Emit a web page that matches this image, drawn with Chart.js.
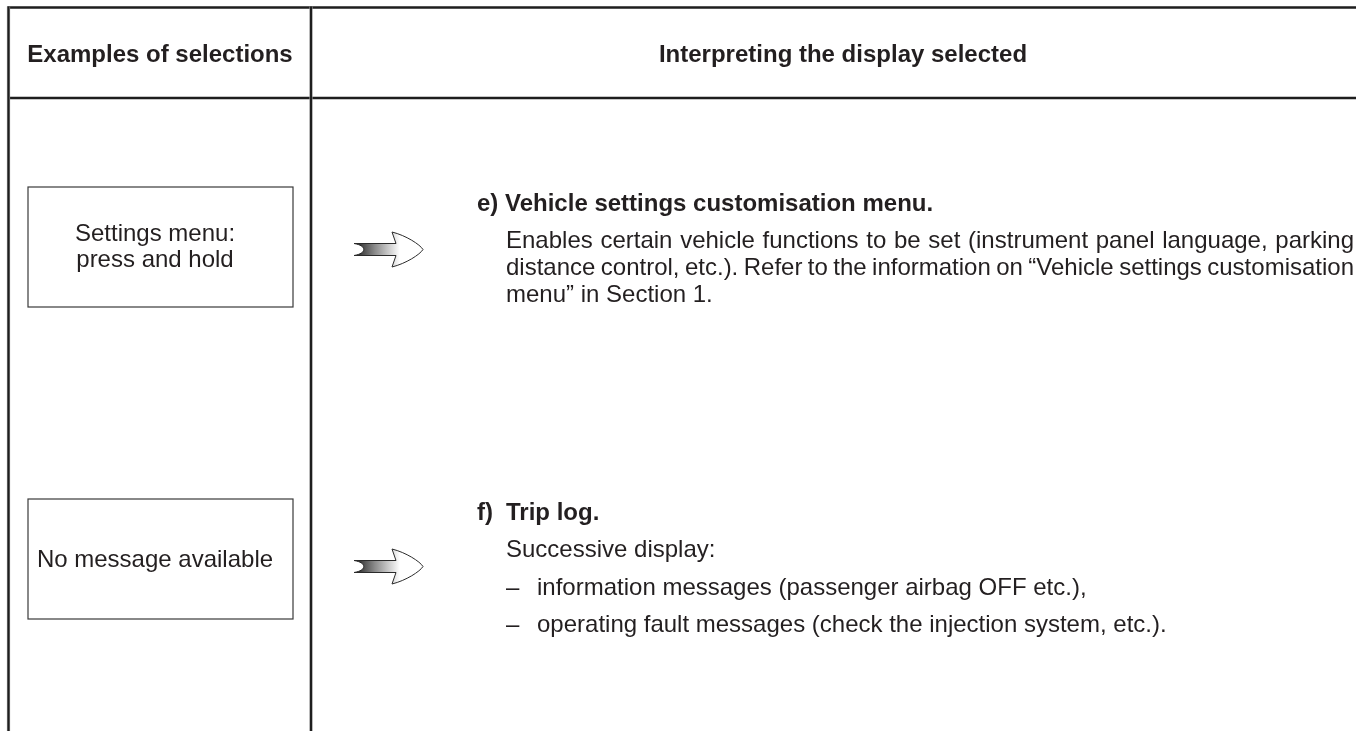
<!DOCTYPE html>
<html><head><meta charset="utf-8">
<script src="https://cdn.jsdelivr.net/npm/chart.js@4"></script>
<style>html,body{margin:0;padding:0;background:#fff;overflow:hidden}#wrap{position:relative;width:1356px;height:731px}</style>
</head><body><div id="wrap"><canvas id="c" width="1356" height="731"></canvas></div>
<script>
// ---- content ----
const headers = ["Examples of selections", "Interpreting the display selected"];
const selections = [["Settings menu:", "press and hold"], ["No message available"]];
const itemLabels = ["e)", "f)"];
const itemTitles = ["Vehicle settings customisation menu.", "Trip log."];
const itemBodyE = [
  "Enables certain vehicle functions to be set (instrument panel language, parking",
  "distance control, etc.). Refer to the information on \u201cVehicle settings customisation",
  "menu\u201d in Section 1."
];
const itemIntroF = ["Successive display:"];
const itemBulletsF = [
  "information messages (passenger airbag OFF etc.),",
  "operating fault messages (check the injection system, etc.)."
];

// ---- layout (page units mapped through hidden linear scales) ----
const L = {
  W: 1356, H: 731,
  leftX: 8.5, divX: 311, topY: 7.5, headY: 98,
  headBase: 61.5, head1X: 160, head2X: 843,
  boxX0: 28, boxX1: 293,
  boxes: [[187, 307], [499, 619]],
  selX: 155, selBase: [[241, 267], [566.5]],
  arrowX: 354, arrowRows: [249.5, 566.5],
  labelX: 477, textX: 506, bulletTextX: 537, rightEdge: 1354,
  eTitleBase: 210.5, eBodyBase: [248.3, 275, 301.7],
  fTitleBase: 520, fIntroBase: 557, fBulletBase: [595, 632]
};
const FONT = '"Liberation Sans", Arial, Helvetica, sans-serif';
const SIZE = 24, BODY = 24;
const INK = '#231f20';

const tablePlugin = {
  id: 'tablePlugin',
  afterDraw(chart) {
    const ctx = chart.ctx;
    const X = v => chart.scales.x.getPixelForValue(v);
    const Y = v => chart.scales.y.getPixelForValue(v);
    ctx.save();
    function rule(x0, y0, x1, y1) {
      ctx.lineCap = 'butt';
      ctx.strokeStyle = '#8c8c8c'; ctx.lineWidth = 3.2;
      ctx.beginPath(); ctx.moveTo(X(x0), Y(y0)); ctx.lineTo(X(x1), Y(y1)); ctx.stroke();
      ctx.strokeStyle = '#1e1e1e'; ctx.lineWidth = 2;
      ctx.beginPath(); ctx.moveTo(X(x0), Y(y0)); ctx.lineTo(X(x1), Y(y1)); ctx.stroke();
    }
    rule(L.leftX - 1, L.topY, L.W, L.topY);
    rule(L.leftX - 1, L.headY, L.W, L.headY);
    rule(L.leftX, L.topY - 1, L.leftX, L.H);
    rule(L.divX, L.topY - 1, L.divX, L.H);

    ctx.strokeStyle = '#3a3a3a'; ctx.lineWidth = 1.2;
    L.boxes.forEach(b => {
      ctx.strokeRect(X(L.boxX0), Y(b[0]), X(L.boxX1) - X(L.boxX0), Y(b[1]) - Y(b[0]));
    });

    function setFont(bold, size) {
      ctx.font = (bold ? 'bold ' : '') + size + 'px ' + FONT;
      ctx.fillStyle = INK;
      ctx.textBaseline = 'alphabetic';
    }
    function txt(s, x, y, bold, align, size) {
      setFont(bold, size || SIZE);
      ctx.textAlign = align || 'left';
      ctx.fillText(s, X(x), Y(y));
    }
    function justified(s, x0, x1, y, size) {
      setFont(false, size);
      ctx.textAlign = 'left';
      const words = s.split(' ');
      const widths = words.map(w => ctx.measureText(w).width);
      const total = widths.reduce((a, b) => a + b, 0);
      const gap = (X(x1) - X(x0) - total) / (words.length - 1);
      let px = X(x0);
      words.forEach((w, i) => { ctx.fillText(w, px, Y(y)); px += widths[i] + gap; });
    }
    txt(headers[0], L.head1X, L.headBase, true, 'center');
    txt(headers[1], L.head2X, L.headBase, true, 'center');
    selections.forEach((lines, i) => {
      lines.forEach((s, j) => txt(s, L.selX, L.selBase[i][j], false, 'center'));
    });

    L.arrowRows.forEach(cy => {
      const ax = L.arrowX;
      const P = (dx, dy) => [X(ax + dx), Y(cy + dy)];
      const g = ctx.createLinearGradient(X(ax), 0, X(ax + 46), 0);
      g.addColorStop(0, '#1a1a1a'); g.addColorStop(0.45, '#8a8a8a'); g.addColorStop(1, '#ffffff');
      ctx.beginPath();
      let p = P(0, -6); ctx.moveTo(p[0], p[1]);
      p = P(42, -6); ctx.lineTo(p[0], p[1]);
      p = P(38, -17.5); ctx.lineTo(p[0], p[1]);
      let c1 = P(52, -14), c2 = P(66, -5), e = P(69, 0);
      ctx.bezierCurveTo(c1[0], c1[1], c2[0], c2[1], e[0], e[1]);
      c1 = P(66, 5); c2 = P(52, 14); e = P(38, 17.5);
      ctx.bezierCurveTo(c1[0], c1[1], c2[0], c2[1], e[0], e[1]);
      p = P(42, 6); ctx.lineTo(p[0], p[1]);
      p = P(0, 6); ctx.lineTo(p[0], p[1]);
      c1 = P(13, 4); c2 = P(13, -4); e = P(0, -6);
      ctx.bezierCurveTo(c1[0], c1[1], c2[0], c2[1], e[0], e[1]);
      ctx.closePath();
      ctx.fillStyle = g; ctx.fill();
      ctx.strokeStyle = '#2a2a2a'; ctx.lineWidth = 1; ctx.stroke();
    });

    // e) block
    txt(itemLabels[0] + ' ' + itemTitles[0], L.labelX, L.eTitleBase, true, 'left', BODY);
    itemBodyE.forEach((s, i) => {
      if (i < itemBodyE.length - 1) justified(s, L.textX, L.rightEdge, L.eBodyBase[i], BODY);
      else txt(s, L.textX, L.eBodyBase[i], false, 'left', BODY);
    });
    // f) block
    txt(itemLabels[1], L.labelX, L.fTitleBase, true, 'left', BODY);
    txt(itemTitles[1], L.textX, L.fTitleBase, true, 'left', BODY);
    txt(itemIntroF[0], L.textX, L.fIntroBase, false, 'left', BODY);
    itemBulletsF.forEach((s, i) => {
      txt('\u2013', L.textX, L.fBulletBase[i], false, 'left', BODY);
      txt(s, L.bulletTextX, L.fBulletBase[i], false, 'left', BODY);
    });
    ctx.restore();
  }
};

new Chart(document.getElementById('c'), {
  type: 'scatter',
  data: { datasets: [{ data: [], pointRadius: 0 }] },
  options: {
    responsive: false, animation: false, events: [],
    layout: { padding: 0 },
    plugins: { legend: { display: false }, tooltip: { enabled: false } },
    scales: {
      x: { type: 'linear', min: 0, max: L.W, display: false },
      y: { type: 'linear', min: 0, max: L.H, reverse: true, display: false }
    }
  },
  plugins: [tablePlugin]
});
</script>
</body></html>
